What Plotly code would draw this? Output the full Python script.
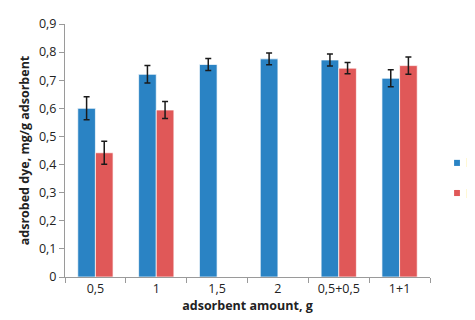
import plotly.graph_objects as go

categories = ["0,5", "1", "1,5", "2", "0,5+0,5", "1+1"]
rd_values = [0.600, 0.721, 0.756, 0.776, 0.772, 0.707]
rd_errors = [0.041, 0.031, 0.021, 0.021, 0.021, 0.030]
l_values = [0.442, 0.594, None, None, 0.743, 0.752]
l_errors = [0.041, 0.030, 0, 0, 0.020, 0.031]
y_ticks = [0, 0.1, 0.2, 0.3, 0.4, 0.5, 0.6, 0.7, 0.8, 0.9]
y_tick_labels = ["0", "0,1", "0,2", "0,3", "0,4", "0,5", "0,6", "0,7", "0,8", "0,9"]
series_names = ["RD", "L"]

FONT = "'Open Sans', sans-serif"
RD_COLOR = "#2a83c4"
L_COLOR = "#e05858"
err_style = dict(type="data", visible=True, color="#1a1a1a", thickness=1.5, width=3)

fig = go.Figure()
fig.add_trace(go.Bar(
    name=series_names[0], x=categories, y=rd_values, showlegend=False,
    marker=dict(color=RD_COLOR, line=dict(color="rgba(255,255,255,0.7)", width=1)),
    error_y=dict(array=rd_errors, **err_style),
))
fig.add_trace(go.Bar(
    name=series_names[1], x=categories, y=l_values, showlegend=False,
    marker=dict(color=L_COLOR, line=dict(color="rgba(255,255,255,0.7)", width=1)),
    error_y=dict(array=l_errors, **err_style),
))

# legend drawn in the right margin (paper coordinates)
legend_rows = [(series_names[0], RD_COLOR, 0.451), (series_names[1], L_COLOR, 0.332)]
for name, color, yc in legend_rows:
    fig.add_shape(type="rect", xref="paper", yref="paper",
                  x0=1.066, x1=1.082, y0=yc - 0.012, y1=yc + 0.012,
                  fillcolor=color, line=dict(width=0))
    fig.add_annotation(text=name, xref="paper", yref="paper", x=1.092, y=yc,
                       xanchor="left", yanchor="middle", showarrow=False,
                       font=dict(size=12.5, color="#222"))

fig.update_layout(
    width=475, height=320,
    margin=dict(l=57, r=53, t=16, b=51, autoexpand=False),
    paper_bgcolor="white", plot_bgcolor="white",
    barmode="group", bargap=0.42, bargroupgap=0,
    showlegend=False,
    font=dict(family=FONT, size=13, color="#222"),
    xaxis=dict(
        showline=True, linecolor="#9a9a9a", linewidth=1,
        ticks="outside", ticklen=5, tickcolor="#9a9a9a", tickson="boundaries",
        tickfont=dict(size=12.5),
        title=dict(text="<b>adsorbent amount, g</b>", font=dict(size=12.5), standoff=5),
    ),
    yaxis=dict(
        range=[0, 0.9], tickvals=y_ticks, ticktext=y_tick_labels,
        showline=True, linecolor="#9a9a9a", linewidth=1,
        ticks="outside", ticklen=5, tickcolor="#9a9a9a",
        showgrid=False, zeroline=False, tickfont=dict(size=12.5),
        title=dict(text="<b>adsrobed dye, mg/g adsorbent</b>", font=dict(size=12.5), standoff=6),
    ),
)

fig.write_html("out.html")
